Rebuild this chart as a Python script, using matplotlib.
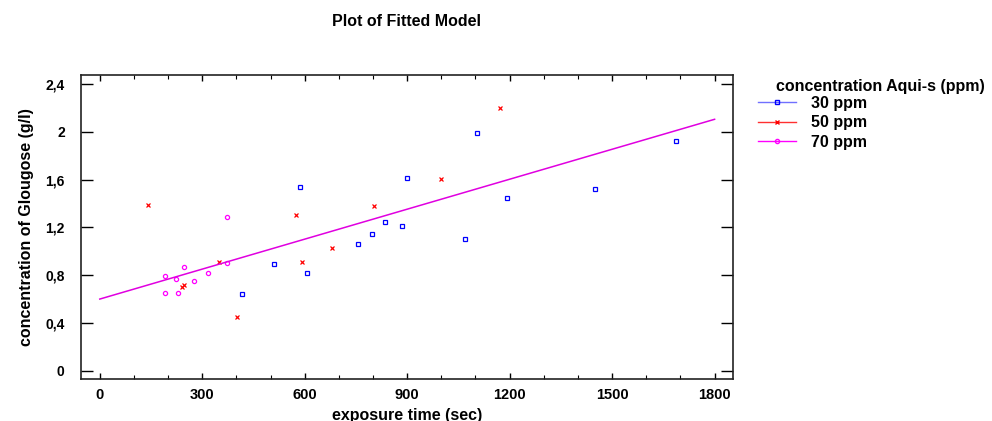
import numpy as np
import matplotlib
matplotlib.use('Agg')
import matplotlib.pyplot as plt
from matplotlib.lines import Line2D

plt.rcParams['font.family'] = ['Liberation Sans', 'DejaVu Sans']
plt.rcParams['font.weight'] = 'bold'

# Data
time_30 = [417, 509, 587, 608, 756, 798, 836, 885, 900, 1068, 1105, 1191, 1451, 1686]
gluc_30 = [0.645, 0.893, 1.540, 0.820, 1.058, 1.142, 1.247, 1.214, 1.613, 1.103, 1.992, 1.448, 1.521, 1.925]

time_50 = [142, 240, 248, 349, 403, 575, 593, 680, 802, 998, 1171]
gluc_50 = [1.385, 0.703, 0.717, 0.907, 0.450, 1.301, 0.907, 1.025, 1.379, 1.602, 2.197]

time_70 = [190, 190, 222, 229, 248, 275, 316, 371, 371]
gluc_70 = [0.793, 0.648, 0.770, 0.648, 0.866, 0.748, 0.820, 1.289, 0.904]

# fitted model line (end points)
fit_x = [0, 1800]
fit_y = [0.600, 2.105]

xticks = [0, 300, 600, 900, 1200, 1500, 1800]
yticks = [0, 0.4, 0.8, 1.2, 1.6, 2.0, 2.4]
ytick_labels = ['0', '0,4', '0,8', '1,2', '1,6', '2', '2,4']
legend_labels = ['30 ppm', '50 ppm', '70 ppm']

fig = plt.figure(figsize=(9.92, 4.21), dpi=100)
ax = fig.add_axes([0.082, 0.0998, 0.6566, 0.7221])

ax.plot(time_30, gluc_30, linestyle='none', marker='s', markersize=3,
        markerfacecolor='none', markeredgecolor='#0000ff', markeredgewidth=0.9)
ax.plot(time_50, gluc_50, linestyle='none', marker='x', markersize=3.2,
        color='#ff0000', markeredgewidth=0.9)
ax.plot(time_70, gluc_70, linestyle='none', marker='o', markersize=3,
        markerfacecolor='none', markeredgecolor='#ff00ff', markeredgewidth=0.9)
ax.plot(fit_x, fit_y, color='#e000e0', linewidth=1.1)

ax.set_xlim(-54, 1853)
ax.set_ylim(-0.069, 2.476)
ax.set_xticks(xticks)
ax.set_xticks(np.arange(0, 1801, 100), minor=True)
ax.set_yticks(yticks)
ax.set_yticklabels(ytick_labels)

ax.tick_params(axis='x', which='major', direction='in', length=4.5, width=1,
               top=True, labelsize=10.5, pad=6.5)
ax.tick_params(axis='x', which='minor', direction='in', length=3, width=0.8, top=True)
ax.tick_params(axis='y', which='major', direction='in', length=8.5, width=1,
               right=True, labelsize=10, pad=12)
for lab in ax.get_xticklabels() + ax.get_yticklabels():
    lab.set_fontweight('bold')
for s in ax.spines.values():
    s.set_linewidth(1.2)
    s.set_color('#222222')

ax.set_xlabel('exposure time (sec)', fontsize=11.5, fontweight='bold', labelpad=4)
ax.set_ylabel('concentration of Glougose (g/l)', fontsize=11.5, fontweight='bold', labelpad=8)
fig.text(0.41, 0.948, 'Plot of Fitted Model', ha='center', va='center',
         fontsize=11.5, fontweight='bold')

# legend
fig.text(0.782, 0.795, 'concentration Aqui-s (ppm)', ha='left', va='center',
         fontsize=11.5, fontweight='bold')
handles = [
    Line2D([], [], color='#7070ff', marker='s', markersize=3, markerfacecolor='none',
           markeredgecolor='#0000ff', linewidth=1),
    Line2D([], [], color='#ff3030', marker='x', markersize=3, markeredgecolor='#ff0000',
           linewidth=1),
    Line2D([], [], color='#ff00ff', marker='o', markersize=3, markerfacecolor='none',
           markeredgecolor='#ff00ff', linewidth=1),
]
leg = fig.legend(handles, legend_labels, loc='upper left', bbox_to_anchor=(0.764, 0.772),
                 frameon=False, fontsize=11.5, handlelength=2.4, handletextpad=0.9,
                 labelspacing=0.28, borderaxespad=0, borderpad=0)
for t in leg.get_texts():
    t.set_fontweight('bold')

fig.savefig('out.png', dpi=100)
